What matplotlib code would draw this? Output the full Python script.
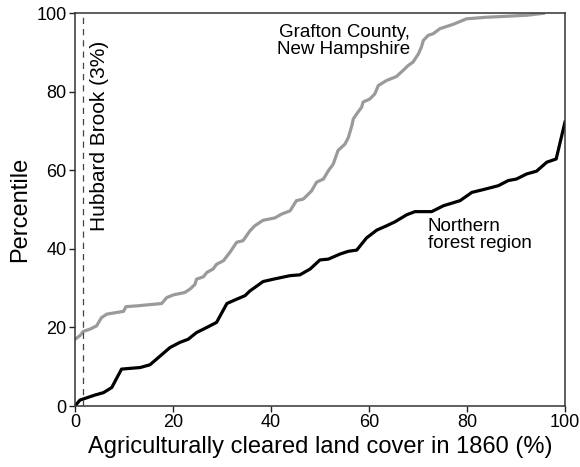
import matplotlib
matplotlib.use("Agg")
import matplotlib.pyplot as plt

plt.rcParams['font.family'] = ['Liberation Sans', 'DejaVu Sans']

# Northern forest region (black)
north_x = [0, 1.0, 4.1, 5.8, 7.5, 9.5, 13.3, 15.3, 19.4, 21.4, 23.1, 24.8, 26.9, 28.9,
           31.0, 33.0, 34.7, 35.7, 38.4, 40.5, 43.9, 45.9, 48.0, 50.0, 51.7, 54.1, 55.8,
           57.5, 59.5, 61.6, 63.6, 65.3, 67.7, 69.4, 72.8, 75.2, 78.6, 81.0, 83.3, 86.4,
           88.4, 90.1, 92.2, 94.2, 96.3, 98.2, 100]
north_y = [0, 1.5, 2.8, 3.4, 4.7, 9.4, 9.8, 10.5, 14.9, 16.2, 17.0, 18.7, 20.0, 21.3,
           26.1, 27.2, 28.1, 29.3, 31.7, 32.3, 33.2, 33.4, 34.9, 37.2, 37.4, 38.7, 39.4,
           39.7, 42.8, 44.8, 45.9, 46.9, 48.7, 49.5, 49.5, 51.0, 52.3, 54.4, 55.1, 56.1,
           57.4, 57.8, 59.1, 59.8, 62.1, 62.9, 72.3]

# Grafton County, New Hampshire (gray)
graf_x = [0, 1.0, 1.7, 3.1, 4.4, 5.4, 6.5, 9.9, 10.4, 12.6, 17.7, 18.7, 20.1, 22.4, 23.5,
          24.5, 24.8, 26.2, 26.9, 28.2, 28.9, 30.3, 31.6, 33.0, 34.3, 35.7, 36.7, 38.4,
          40.8, 42.2, 43.9, 45.2, 46.6, 48.3, 49.3, 50.7, 51.7, 52.7, 53.7, 55.1, 55.8,
          56.5, 56.8, 57.5, 58.5, 58.8, 60.2, 61.2, 61.9, 63.6, 65.6, 67.0, 68.0, 69.0,
          70.1, 70.7, 71.1, 72.1, 73.1, 74.5, 77.2, 79.9, 84.0, 92.2, 95.6]
graf_y = [17.0, 17.9, 19.0, 19.6, 20.4, 22.5, 23.4, 24.1, 25.3, 25.5, 26.1, 27.6, 28.3,
          28.9, 29.8, 31.0, 32.3, 32.9, 34.0, 34.9, 36.1, 37.0, 39.1, 41.7, 42.1, 44.6,
          45.9, 47.3, 47.9, 48.9, 49.7, 52.3, 52.7, 54.8, 57.0, 57.8, 59.9, 61.6, 65.1,
          66.7, 68.4, 71.4, 73.1, 74.4, 76.1, 77.4, 78.2, 79.5, 81.6, 82.9, 83.9, 85.5,
          86.7, 87.6, 89.7, 91.4, 93.1, 94.4, 94.8, 96.1, 97.2, 98.6, 99.0, 99.5, 100]

hubbard_x = 1.6
ticks = [0, 20, 40, 60, 80, 100]

fig = plt.figure(figsize=(5.8, 4.67), dpi=100)
ax = fig.add_axes([0.1293, 0.1306, 0.8448, 0.8409])

ax.plot(graf_x, graf_y, color='#9a9a9a', lw=2.3, solid_joinstyle='round')
ax.plot(north_x, north_y, color='black', lw=2.3, solid_joinstyle='round')
ax.axvline(hubbard_x, color='#444444', lw=0.9, dashes=(5, 4))

ax.text(5.1, 68.7, "Hubbard Brook (3%)", rotation=90, ha='center', va='center', fontsize=15)
ax.text(54.9, 93.0, "Grafton County,\nNew Hampshire", ha='center', va='center',
        fontsize=13.5, linespacing=1.0)
ax.text(72.0, 43.6, "Northern\nforest region", ha='left', va='center',
        fontsize=13.5, linespacing=1.0)

ax.set_xlim(0, 100)
ax.set_ylim(0, 100)
ax.set_xticks(ticks)
ax.set_yticks(ticks)
ax.tick_params(direction='out', length=4, width=1, labelsize=13, pad=2, colors='#222222',
               labelcolor='black')
for s in ax.spines.values():
    s.set_linewidth(1.1)
    s.set_color('#333333')

ax.set_xlabel("Agriculturally cleared land cover in 1860 (%)", fontsize=17, labelpad=3)
ax.set_ylabel("Percentile", fontsize=17, labelpad=4)

fig.savefig("out.png", dpi=100)
